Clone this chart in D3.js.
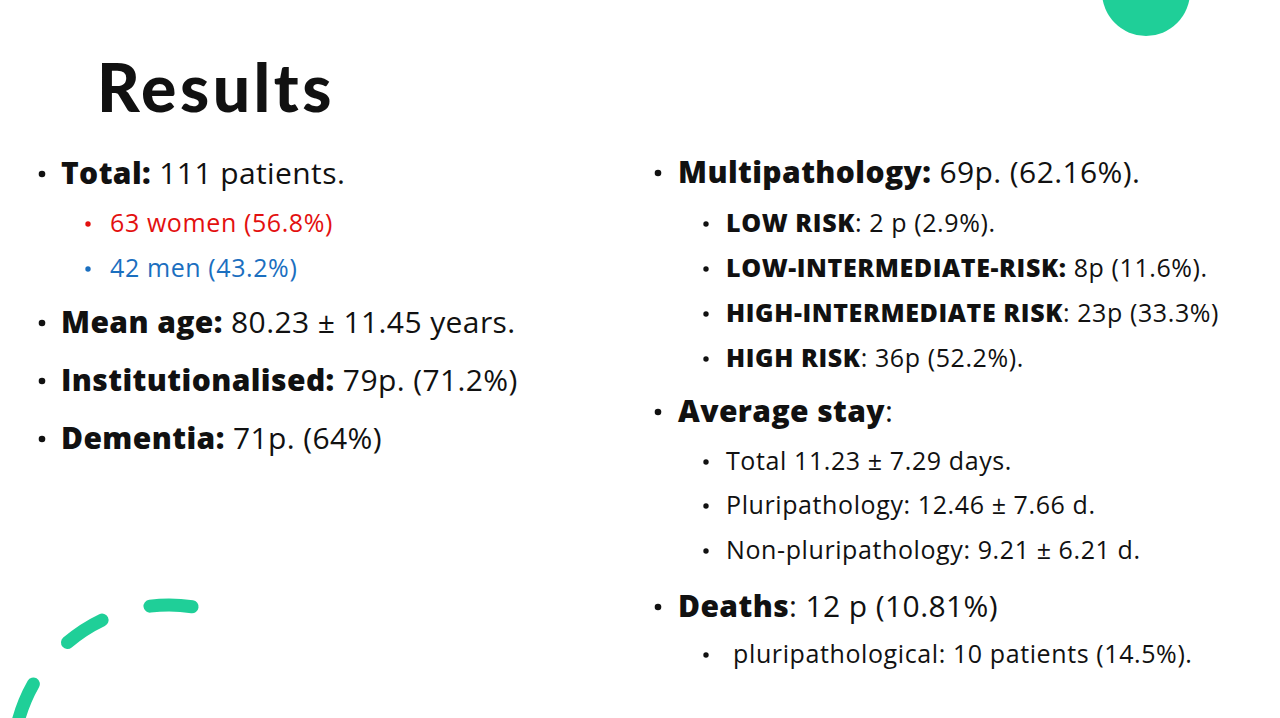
<!DOCTYPE html>
<html>
<head>
<meta charset="utf-8">
<script src="https://d3js.org/d3.v7.min.js"></script>
<style>
  html, body { margin: 0; padding: 0; background: #fff; }
  svg { display: block; }
  text { font-family: "Open Sans", Lato, sans-serif; fill: #111; }
</style>
</head>
<body>
<svg id="slide" width="1280" height="718"></svg>
<script>
// slide content: [level, bold part, normal part, colour]
const leftLines = [
  [1, "Total:", " 111 patients.", "#111"],
  [2, "", "63 women (56.8%)", "#e3100f"],
  [2, "", "42 men (43.2%)", "#1b6fbf"],
  [1, "Mean age:", " 80.23 ± 11.45 years.", "#111"],
  [1, "Institutionalised:", " 79p. (71.2%)", "#111"],
  [1, "Dementia:", " 71p. (64%)", "#111"]
];
const leftBaselines = [184, 232, 277, 333, 391, 449];

const rightLines = [
  [1, "Multipathology:", " 69p. (62.16%).", "#111"],
  [2, "LOW RISK", ": 2 p (2.9%).", "#111"],
  [2, "LOW-INTERMEDIATE-RISK:", " 8p (11.6%).", "#111"],
  [2, "HIGH-INTERMEDIATE RISK", ": 23p (33.3%)", "#111"],
  [2, "HIGH RISK", ": 36p (52.2%).", "#111"],
  [1, "Average stay", ":", "#111"],
  [2, "", "Total 11.23 ± 7.29 days.", "#111"],
  [2, "", "Pluripathology: 12.46 ± 7.66 d.", "#111"],
  [2, "", "Non-pluripathology: 9.21 ± 6.21 d.", "#111"],
  [1, "Deaths", ": 12 p (10.81%)", "#111"],
  [2, "", "\u00a0pluripathological: 10 patients (14.5%).", "#111"]
];
const rightBaselines = [183, 232, 277, 322, 367, 422, 470, 514, 559, 617, 663];

const green = "#1fcf98";
const svg = d3.select("#slide");

// decorations
svg.append("circle").attr("cx", 1146).attr("cy", -8).attr("r", 44).attr("fill", green);

const dashes = [[-97, -81.5], [-130.6, -115.4], [-170, -150.4]];
svg.append("g").attr("transform", "translate(169,761)")
  .selectAll("path").data(dashes).join("path")
  .attr("d", d => {
      const p = d3.path();
      p.arc(0, 0, 156, d[0] * Math.PI / 180, d[1] * Math.PI / 180);
      return p.toString();
  })
  .attr("fill", "none").attr("stroke", green)
  .attr("stroke-width", 13).attr("stroke-linecap", "round");

// title
svg.append("text").attr("x", 97).attr("y", 112)
  .style("font-family", "Lato, sans-serif")
  .style("font-size", "66px").style("font-weight", 900).style("letter-spacing", "3.5px")
  .text("Results");

function column(lines, baselines, x1, bullet1, x2, bullet2) {
  const g = svg.append("g");
  const rows = g.selectAll("g.row").data(lines).join("g").attr("class", "row");
  rows.append("circle")
    .attr("cx", d => d[0] === 1 ? bullet1 : bullet2)
    .attr("cy", (d, i) => baselines[i] - (d[0] === 1 ? 10 : 8))
    .attr("r", d => d[0] === 1 ? 3.3 : 2.7)
    .attr("fill", d => d[3]);
  const t = rows.append("text")
    .attr("x", d => d[0] === 1 ? x1 : x2)
    .attr("y", (d, i) => baselines[i])
    .style("font-size", d => d[0] === 1 ? "30px" : "25px")
    .style("letter-spacing", d => d[0] === 1 ? "0.4px" : "0.6px")
    .style("fill", d => d[3]);
  t.append("tspan").style("font-weight", 800).text(d => d[1]);
  t.append("tspan").text(d => d[2]);
}

column(leftLines, leftBaselines, 61, 42, 110, 88);
column(rightLines, rightBaselines, 678, 658, 726, 706);
</script>
</body>
</html>
